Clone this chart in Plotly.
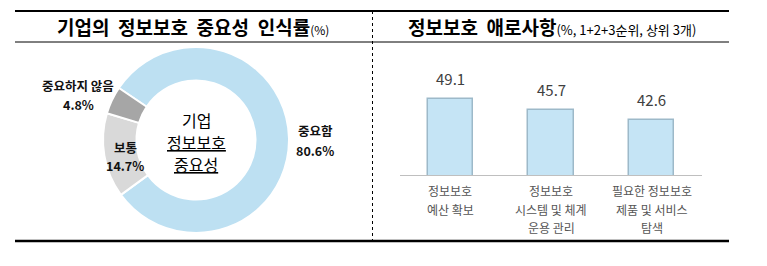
import plotly.graph_objects as go

# ---- data ----
pie_labels = ["중요함", "보통", "중요하지 않음"]
pie_values = [80.6, 14.7, 4.8]
pie_colors = ["#BDE0F2", "#D9D9D9", "#A6A6A6"]

bar_categories = [["정보보호", "예산 확보"], ["정보보호", "시스템 및 체계", "운용 관리"], ["필요한 정보보호", "제품 및 서비스", "탐색"]]
bar_values = [49.1, 45.7, 42.6]

left_title = "기업의 정보보호 중요성 인식률"
left_unit = "(%)"
right_title = "정보보호 애로사항"
right_unit = "(%, 1+2+3순위, 상위 3개)"
center_lines = ["기업", "<u>정보보호</u>", "<u>중요성</u>"]

W, H = 767, 266
FONT = "Noto Sans CJK KR"

def px(x):
    return x / W

def py(y):
    return 1 - y / H

fig = go.Figure()

fig.add_trace(go.Pie(
    labels=pie_labels, values=pie_values, sort=False, direction="clockwise",
    rotation=-56, hole=0.64, textinfo="none", hoverinfo="skip",
    marker=dict(colors=pie_colors, line=dict(color="white", width=2)),
    domain=dict(x=[px(103), px(289)], y=[py(233), py(47)]),
    showlegend=False,
))

fig.add_trace(go.Bar(
    x=list(range(len(bar_values))), y=bar_values, width=0.45,
    marker=dict(color="#C5E4F5", line=dict(color="#9DB9C9", width=1.5)),
    xaxis="x", yaxis="y", showlegend=False, hoverinfo="skip",
))

annotations = []
# bar value labels
for i, v in enumerate(bar_values):
    annotations.append(dict(x=i, y=v, xref="x", yref="y", text=f"{v}", showarrow=False,
                            yanchor="bottom", yshift=8,
                            font=dict(family=FONT, size=15, color="#404040")))

# category labels (one annotation per line)
line_y = [190, 209, 227]
for i, lines in enumerate(bar_categories):
    for j, t in enumerate(lines):
        annotations.append(dict(x=i, y=py(line_y[j]), xref="x", yref="paper", text=t,
                                showarrow=False, xanchor="center", yanchor="middle",
                                font=dict(family=FONT, size=12, color="#555555")))

# pie labels (name line and value line)
pie_label_pos = [(315, 130, 150), (125, 147, 165), (78, 86, 104)]
for (lx, ly1, ly2), lab, val in zip(pie_label_pos, pie_labels, pie_values):
    for ly, t in ((ly1, lab), (ly2, f"{val}%")):
        annotations.append(dict(x=px(lx), y=py(ly), xref="paper", yref="paper",
                                text=f"<b>{t}</b>", showarrow=False,
                                xanchor="center", yanchor="middle",
                                font=dict(family=FONT, size=12.5, color="#111111")))

# donut centre text
for ly, t in zip([120, 142, 164], center_lines):
    annotations.append(dict(x=px(196), y=py(ly), xref="paper", yref="paper", text=t,
                            showarrow=False, xanchor="center", yanchor="middle",
                            font=dict(family=FONT, size=16, color="#000000")))

SP = " \u00a0"
# titles
annotations.append(dict(x=px(193), y=py(26), xref="paper", yref="paper",
                        text=f"<b>{left_title.replace(' ', SP)}</b><span style='font-size:12px'>{left_unit}</span>",
                        showarrow=False, xanchor="center", yanchor="middle",
                        font=dict(family=FONT, size=19, color="#000000")))
annotations.append(dict(x=px(552), y=py(26), xref="paper", yref="paper",
                        text=f"<b>{right_title.replace(' ', SP)}</b><span style='font-size:13px'>{right_unit}</span>",
                        showarrow=False, xanchor="center", yanchor="middle",
                        font=dict(family=FONT, size=19, color="#000000")))

shapes = [
    dict(type="line", xref="paper", yref="paper", x0=px(15), x1=px(729), y0=py(11), y1=py(11),
         line=dict(color="black", width=2)),
    dict(type="line", xref="paper", yref="paper", x0=px(15), x1=px(729), y0=py(42), y1=py(42),
         line=dict(color="black", width=1)),
    dict(type="line", xref="paper", yref="paper", x0=px(15), x1=px(729), y0=py(241), y1=py(241),
         line=dict(color="black", width=2.5)),
    dict(type="line", xref="paper", yref="paper", x0=px(372.5), x1=px(372.5), y0=py(11), y1=py(241),
         line=dict(color="black", width=1, dash="dot")),
]

ymin = 25.6
ytop_px = 60
scale = 3.23
ymax = ymin + (175 - ytop_px) / scale

fig.update_layout(
    width=W, height=H, margin=dict(l=0, r=0, t=0, b=0),
    paper_bgcolor="white", plot_bgcolor="white",
    font=dict(family=FONT),
    xaxis=dict(domain=[px(400), px(702)], range=[-0.5, 2.5], showticklabels=False,
               showgrid=False, zeroline=False, showline=True, linecolor="#BFBFBF", linewidth=1,
               ticks="", fixedrange=True),
    yaxis=dict(domain=[py(175), py(ytop_px)], range=[ymin, ymax], visible=False, fixedrange=True),
    annotations=annotations, shapes=shapes,
    bargap=0,
)

fig.write_html("out.html")
